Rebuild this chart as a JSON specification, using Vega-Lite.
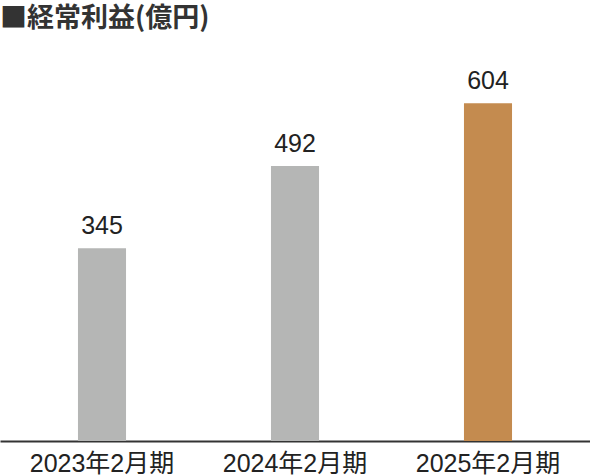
{
  "$schema": "https://vega.github.io/schema/vega-lite/v6.json",
  "description": "経常利益（億円）",
  "autosize": {"type": "fit", "contains": "padding"},
  "width": 590,
  "height": 476,
  "padding": {"top": 5, "left": 0, "right": 0, "bottom": 0},
  "title": {
    "text": "■経常利益(億円)",
    "anchor": "start",
    "frame": "bounds",
    "font": "Noto Sans CJK JP",
    "fontSize": 27,
    "fontWeight": "bold",
    "color": "#333333",
    "offset": 10
  },
  "data": {
    "values": [
      {"period": "2023年2月期", "profit": 345, "latest": "no"},
      {"period": "2024年2月期", "profit": 492, "latest": "no"},
      {"period": "2025年2月期", "profit": 604, "latest": "yes"}
    ]
  },
  "config": {
    "view": {"stroke": null},
    "font": "Liberation Sans, Noto Sans CJK JP"
  },
  "encoding": {
    "x": {
      "field": "period",
      "type": "nominal",
      "sort": null,
      "title": null,
      "scale": {"paddingInner": 0.751, "paddingOuter": 0.404},
      "axis": {
        "labelAngle": 0,
        "labelFont": "Liberation Sans, Noto Sans CJK JP",
        "labelFontSize": 25,
        "labelColor": "#222222",
        "labelPadding": 10,
        "ticks": false,
        "domainColor": "#333333",
        "domainWidth": 2,
        "grid": false
      }
    },
    "y": {
      "field": "profit",
      "type": "quantitative",
      "scale": {"domain": [0, 712], "nice": false},
      "axis": null
    }
  },
  "layer": [
    {
      "mark": {"type": "bar"},
      "encoding": {
        "color": {
          "field": "latest",
          "type": "nominal",
          "scale": {"domain": ["no", "yes"], "range": ["#b5b6b5", "#c48b4f"]},
          "legend": null
        }
      }
    },
    {
      "mark": {
        "type": "text",
        "baseline": "bottom",
        "dy": -9,
        "fontSize": 25,
        "font": "Liberation Sans",
        "color": "#222222"
      },
      "encoding": {
        "text": {"field": "profit", "type": "quantitative"}
      }
    }
  ]
}
